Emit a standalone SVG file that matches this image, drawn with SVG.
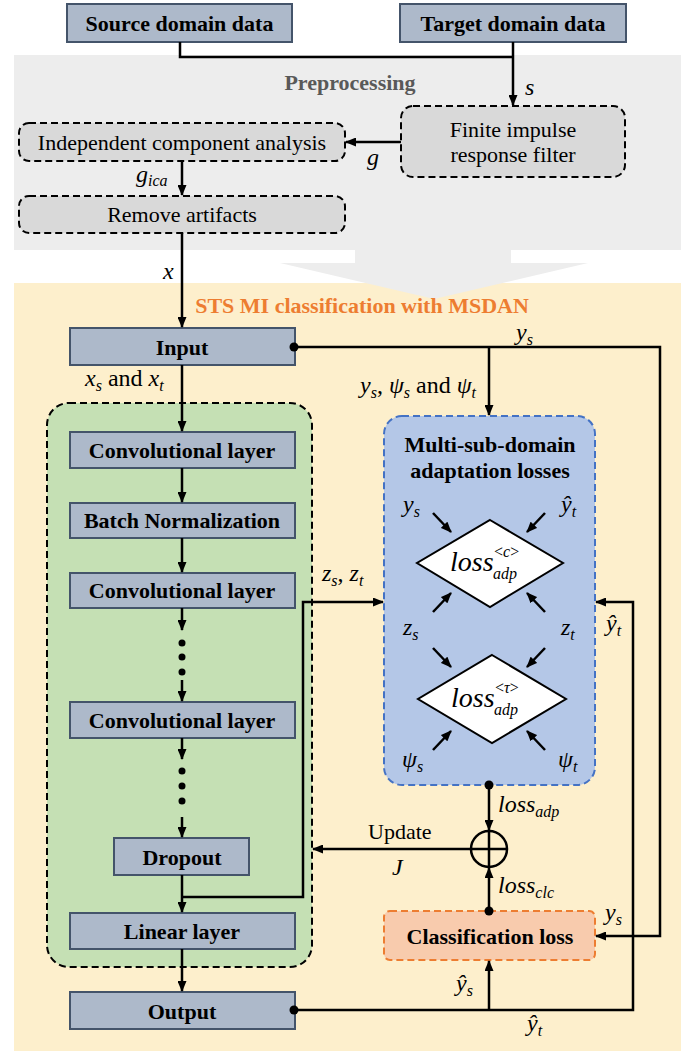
<svg xmlns="http://www.w3.org/2000/svg" width="697" height="1051" viewBox="0 0 697 1051" font-family="'Liberation Serif', 'Times New Roman', Tinos, 'DejaVu Serif', serif">
<style>
text{font-family:'Liberation Serif','Times New Roman',Tinos,'DejaVu Serif',serif}
.node{fill:#adb9ca;stroke:#44546a;stroke-width:2}
.pre{fill:#d9d9d9;stroke:#000;stroke-width:2;stroke-dasharray:7 4}
.nb{font-weight:bold;font-size:22px;text-anchor:middle;fill:#000}
.nr{font-size:22px;text-anchor:middle;fill:#000}
.m{font-style:italic;font-size:24px;fill:#000}
.up{font-style:normal}
.sub{font-size:16px}
.ln{fill:none;stroke:#000;stroke-width:2.5}
.arr{fill:none;stroke:#000;stroke-width:2.5;marker-end:url(#ah)}
.dot{fill:#000}
</style>
<defs>
<marker id="ah" markerUnits="userSpaceOnUse" markerWidth="11" markerHeight="9" refX="10" refY="4.5" orient="auto">
<path d="M0,0 L11,4.5 L0,9 z" fill="#000"/>
</marker>
</defs>
<rect width="697" height="1051" fill="#ffffff"/>
<g id="preprocessing-region">
<rect x="14" y="55" width="667" height="195" fill="#ededed"/>
<text x="350" y="90" class="nb" style="fill:#595959">Preprocessing</text>
</g>
<g id="msdan-region">
<rect x="14" y="283" width="667" height="768" fill="#fdefcc"/>
<path d="M355,250 L511,250 L511,263 L588,263 L434,299 L280,263 L355,263 Z" fill="#ededed"/>
<text x="362" y="313" class="nb" style="fill:#ed7d31">STS MI classification with MSDAN</text>
</g>
<g id="feature-extractor">
<rect x="47" y="403" width="265" height="564" rx="22" fill="#c5e0b4" stroke="#000" stroke-width="2" stroke-dasharray="7 4"/>
</g>
<g id="source-domain-data">
<rect x="67" y="4" width="225" height="38" class="node"/>
<text x="179.5" y="31" class="nb">Source domain data</text>
</g>
<g id="target-domain-data">
<rect x="400" y="4" width="226" height="38" class="node"/>
<text x="513" y="31" class="nb">Target domain data</text>
</g>
<g id="fir-filter">
<rect x="401" y="106" width="224" height="71" rx="12" class="pre"/>
<text x="513" y="137" class="nr">Finite impulse</text>
<text x="513" y="162" class="nr">response filter</text>
</g>
<g id="ica">
<rect x="19" y="123" width="326" height="38" rx="10" class="pre"/>
<text x="182" y="150" class="nr">Independent component analysis</text>
</g>
<g id="remove-artifacts">
<rect x="19" y="196" width="326" height="37" rx="10" class="pre"/>
<text x="182" y="222" class="nr">Remove artifacts</text>
</g>
<g id="input">
<rect x="70" y="328" width="225" height="37" class="node"/>
<text x="182" y="355" class="nb">Input</text>
</g>
<g id="conv1">
<rect x="70" y="432" width="225" height="36" class="node"/>
<text x="182" y="458" class="nb">Convolutional layer</text>
</g>
<g id="batch-norm">
<rect x="70" y="503" width="225" height="35" class="node"/>
<text x="182" y="528" class="nb">Batch Normalization</text>
</g>
<g id="conv2">
<rect x="70" y="573" width="225" height="35" class="node"/>
<text x="182" y="598" class="nb">Convolutional layer</text>
</g>
<g id="conv3">
<rect x="70" y="702" width="225" height="36" class="node"/>
<text x="182" y="728" class="nb">Convolutional layer</text>
</g>
<g id="dropout">
<rect x="114" y="838" width="135" height="37" class="node"/>
<text x="182" y="865" class="nb">Dropout</text>
</g>
<g id="linear">
<rect x="70" y="913" width="225" height="36" class="node"/>
<text x="182" y="939" class="nb">Linear layer</text>
</g>
<g id="output">
<rect x="70" y="992" width="225" height="37" class="node"/>
<text x="182" y="1019" class="nb">Output</text>
</g>
<g id="msda-losses">
<rect x="384" y="416" width="211" height="369" rx="18" fill="#b4c7e7" stroke="#4472c4" stroke-width="2" stroke-dasharray="7 4"/>
<text x="490" y="452" class="nb">Multi-sub-domain</text>
<text x="490" y="478" class="nb">adaptation losses</text>
<text x="403" y="512" class="m">y<tspan class="sub" dy="5">s</tspan></text>
<text x="561" y="512" class="m">ŷ<tspan class="sub" dy="5">t</tspan></text>
<text x="403" y="635" class="m">z<tspan class="sub" dy="5">s</tspan></text>
<text x="561" y="635" class="m">z<tspan class="sub" dy="5">t</tspan></text>
<text x="402" y="767" class="m">ψ<tspan class="sub" dy="5">s</tspan></text>
<text x="558" y="767" class="m">ψ<tspan class="sub" dy="5">t</tspan></text>
<path d="M433,513 L451,532" class="arr"/>
<path d="M545,513 L527,532" class="arr"/>
<path d="M433,612 L451,593" class="arr"/>
<path d="M545,612 L527,593" class="arr"/>
<path d="M433,648 L451,667" class="arr"/>
<path d="M545,648 L527,667" class="arr"/>
<path d="M433,750 L451,731" class="arr"/>
<path d="M545,750 L527,731" class="arr"/>
</g>
<g id="loss-c">
<path d="M490,520 L563,563 L490,607 L417,563 Z" fill="#fff" stroke="#000" stroke-width="2"/>
<text x="450" y="571" class="m" style="font-size:28px">loss</text>
<text x="494" y="557" class="m" style="font-size:16px"><tspan class="up">&lt;</tspan>c<tspan class="up">&gt;</tspan></text>
<text x="493" y="579" class="m" style="font-size:16px">adp</text>
</g>
<g id="loss-tau">
<path d="M492,655 L566,699 L492,743 L418,699 Z" fill="#fff" stroke="#000" stroke-width="2"/>
<text x="451" y="707" class="m" style="font-size:28px">loss</text>
<text x="495" y="693" class="m" style="font-size:16px"><tspan class="up">&lt;</tspan>τ<tspan class="up">&gt;</tspan></text>
<text x="494" y="715" class="m" style="font-size:16px">adp</text>
</g>
<g id="sum">
<circle cx="489" cy="849" r="18" fill="none" stroke="#000" stroke-width="2.5"/>
<path d="M471,849 H507 M489,831 V867" stroke="#000" stroke-width="2.5"/>
</g>
<g id="classification-loss">
<rect x="384" y="911" width="211" height="49" rx="6" fill="#f8cbad" stroke="#ed7d31" stroke-width="2" stroke-dasharray="7 4"/>
<text x="490" y="944" class="nb">Classification loss</text>
</g>
<g id="connectors">
<path d="M180,42 V57 H513" class="ln"/>
<path d="M513,42 V105" class="arr"/>
<path d="M401,142 H346" class="arr"/>
<path d="M182,161 V195" class="arr"/>
<path d="M182,233 V327" class="arr"/>
<path d="M182,365 V431" class="arr"/>
<path d="M182,468 V502" class="arr"/>
<path d="M182,538 V572" class="arr"/>
<path d="M182,608 V630" class="arr"/>
<circle cx="182" cy="643" r="3.5" class="dot"/>
<circle cx="182" cy="657" r="3.5" class="dot"/>
<circle cx="182" cy="672" r="3.5" class="dot"/>
<path d="M182,680 V701" class="arr"/>
<path d="M182,738 V759" class="arr"/>
<circle cx="182" cy="771" r="3.5" class="dot"/>
<circle cx="182" cy="786" r="3.5" class="dot"/>
<circle cx="182" cy="801" r="3.5" class="dot"/>
<path d="M182,817 V837" class="arr"/>
<path d="M182,875 V912" class="arr"/>
<path d="M182,897 H303 V602 H383" class="arr"/>
<path d="M182,949 V991" class="arr"/>
<circle cx="294" cy="347" r="4.5" class="dot"/>
<path d="M294,347 H660 V936 H596" class="arr"/>
<path d="M489,347 V415" class="arr"/>
<circle cx="294" cy="1010" r="4.5" class="dot"/>
<path d="M294,1010 H633 V602 H596" class="arr"/>
<path d="M489,1010 V961" class="arr"/>
<circle cx="489" cy="785" r="4.5" class="dot"/>
<path d="M489,785 V830" class="arr"/>
<circle cx="489" cy="911" r="4.5" class="dot"/>
<path d="M489,911 V868" class="arr"/>
<path d="M471,849 H313" class="arr"/>
<text x="525" y="95" class="m">s</text>
<text x="367" y="165" class="m">g</text>
<text x="136" y="182" class="m">g<tspan class="sub" dy="4">ica</tspan></text>
<text x="163" y="279" class="m">x</text>
<text x="85" y="386" class="m">x<tspan class="sub" dy="5">s</tspan><tspan class="up" dy="-5"> and </tspan>x<tspan class="sub" dy="5">t</tspan></text>
<text x="516" y="340" class="m">y<tspan class="sub" dy="5">s</tspan></text>
<text x="360" y="393" class="m">y<tspan class="sub" dy="5">s</tspan><tspan class="up" dy="-5">, </tspan>ψ<tspan class="sub" dy="5">s</tspan><tspan class="up" dy="-5"> and </tspan>ψ<tspan class="sub" dy="5">t</tspan></text>
<text x="322" y="581" class="m">z<tspan class="sub" dy="5">s</tspan><tspan class="up" dy="-5">, </tspan>z<tspan class="sub" dy="5">t</tspan></text>
<text x="606" y="631" class="m">ŷ<tspan class="sub" dy="5">t</tspan></text>
<text x="498" y="812" class="m">loss<tspan class="sub" dy="5">adp</tspan></text>
<text x="368" y="839" class="nr" style="text-anchor:start">Update</text>
<text x="392" y="875" class="m">J</text>
<text x="498" y="893" class="m">loss<tspan class="sub" dy="5">clc</tspan></text>
<text x="605" y="920" class="m">y<tspan class="sub" dy="5">s</tspan></text>
<text x="456" y="991" class="m">ŷ<tspan class="sub" dy="5">s</tspan></text>
<text x="527" y="1031" class="m">ŷ<tspan class="sub" dy="5">t</tspan></text>
</g>
</svg>
